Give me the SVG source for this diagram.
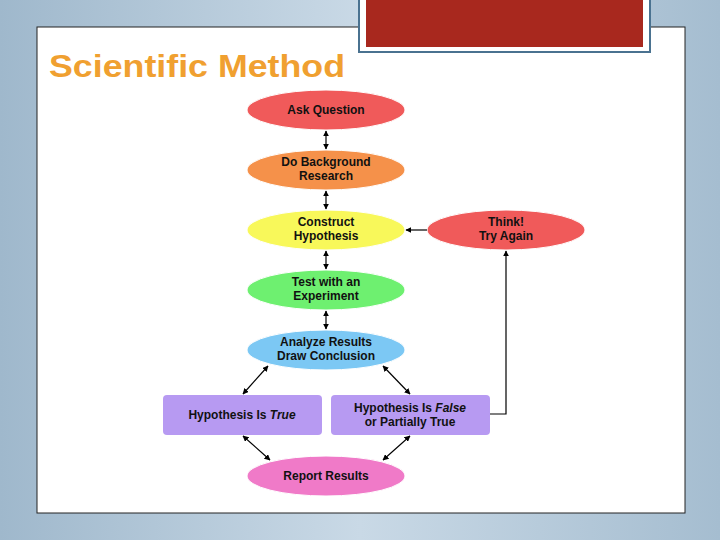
<svg xmlns="http://www.w3.org/2000/svg" width="720" height="540" viewBox="0 0 720 540">
<defs>
<linearGradient id="bg" x1="0" y1="0" x2="1" y2="0"><stop offset="0" stop-color="#9fb8cc"/><stop offset="0.5" stop-color="#c9d9e6"/><stop offset="1" stop-color="#a5bdd0"/></linearGradient>
<marker id="a" viewBox="0 0 10 10" refX="9" refY="5" markerWidth="5" markerHeight="5" orient="auto-start-reverse"><path d="M0,0L10,5L0,10z" fill="#000"/></marker>
<marker id="g" viewBox="0 0 10 10" refX="9" refY="5" markerWidth="5" markerHeight="5" orient="auto"><path d="M0,0L10,5L0,10z" fill="#000"/></marker>
</defs>
<style>
.t{font-family:"Liberation Sans",Arial,sans-serif;font-weight:bold;font-size:12px;text-anchor:middle;fill:#111}
.c{stroke:#000;stroke-width:1.2;fill:none}
.e{stroke:#fff;stroke-width:1}
</style>
<rect width="720" height="540" fill="url(#bg)"/>
<rect x="37" y="27" width="648" height="486" fill="#fff" stroke="#222" stroke-width="1"/>
<rect x="359" y="-2" width="291" height="54" fill="#fff" stroke="#4a7290" stroke-width="2"/>
<rect x="366" y="-2" width="277" height="49" fill="#a8281e"/>
<text x="49" y="77" font-family="Liberation Sans,Arial,sans-serif" font-size="32" font-weight="bold" fill="#f0a030" textLength="296" lengthAdjust="spacingAndGlyphs">Scientific Method</text>
<g id="ask"><ellipse class="e" cx="326" cy="110" rx="79" ry="20" fill="#f05a5a"/><text class="t" x="326" y="114">Ask Question</text></g>
<g id="bg2"><ellipse class="e" cx="326" cy="170" rx="79" ry="20" fill="#f5914a"/><text class="t" x="326" y="166">Do Background</text><text class="t" x="326" y="180">Research</text></g>
<g id="hyp"><ellipse class="e" cx="326" cy="230" rx="79" ry="20" fill="#f8f85a"/><text class="t" x="326" y="226">Construct</text><text class="t" x="326" y="240">Hypothesis</text></g>
<g id="test"><ellipse class="e" cx="326" cy="290" rx="79" ry="20" fill="#6ef070"/><text class="t" x="326" y="286">Test with an</text><text class="t" x="326" y="300">Experiment</text></g>
<g id="ana"><ellipse class="e" cx="326" cy="350" rx="79" ry="20" fill="#7cc8f4"/><text class="t" x="326" y="346">Analyze Results</text><text class="t" x="326" y="360">Draw Conclusion</text></g>
<g id="think"><ellipse class="e" cx="506" cy="230" rx="79" ry="20" fill="#f05a5a"/><text class="t" x="506" y="226">Think!</text><text class="t" x="506" y="240">Try Again</text></g>
<g id="true"><rect x="163" y="395" width="159" height="40" rx="4" fill="#b79af2"/><text class="t" x="242" y="419">Hypothesis Is <tspan font-style="italic">True</tspan></text></g>
<g id="false"><rect x="331" y="395" width="159" height="40" rx="4" fill="#b79af2"/><text class="t" x="410" y="412">Hypothesis Is <tspan font-style="italic">False</tspan></text><text class="t" x="410" y="426">or Partially True</text></g>
<g id="rep"><ellipse class="e" cx="326" cy="476" rx="79" ry="20" fill="#f07ac8"/><text class="t" x="326" y="480">Report Results</text></g>
<g id="connectors">
<line class="c" x1="326" y1="131" x2="326" y2="149" marker-start="url(#a)" marker-end="url(#a)"/>
<line class="c" x1="326" y1="191" x2="326" y2="209" marker-start="url(#a)" marker-end="url(#a)"/>
<line class="c" x1="326" y1="251" x2="326" y2="269" marker-start="url(#a)" marker-end="url(#a)"/>
<line class="c" x1="326" y1="311" x2="326" y2="329" marker-start="url(#a)" marker-end="url(#a)"/>
<line class="c" x1="268" y1="366" x2="243" y2="394" marker-start="url(#a)" marker-end="url(#a)"/>
<line class="c" x1="383" y1="366" x2="410" y2="394" marker-start="url(#a)" marker-end="url(#a)"/>
<line class="c" x1="243" y1="436" x2="270" y2="460" marker-start="url(#a)" marker-end="url(#a)"/>
<line class="c" x1="410" y1="436" x2="383" y2="460" marker-start="url(#a)" marker-end="url(#a)"/>
<line class="c" x1="427" y1="230" x2="406" y2="230" marker-end="url(#g)"/>
<polyline class="c" stroke="#555" points="490,414 506,414 506,251" marker-end="url(#g)"/>
</g>
</svg>
